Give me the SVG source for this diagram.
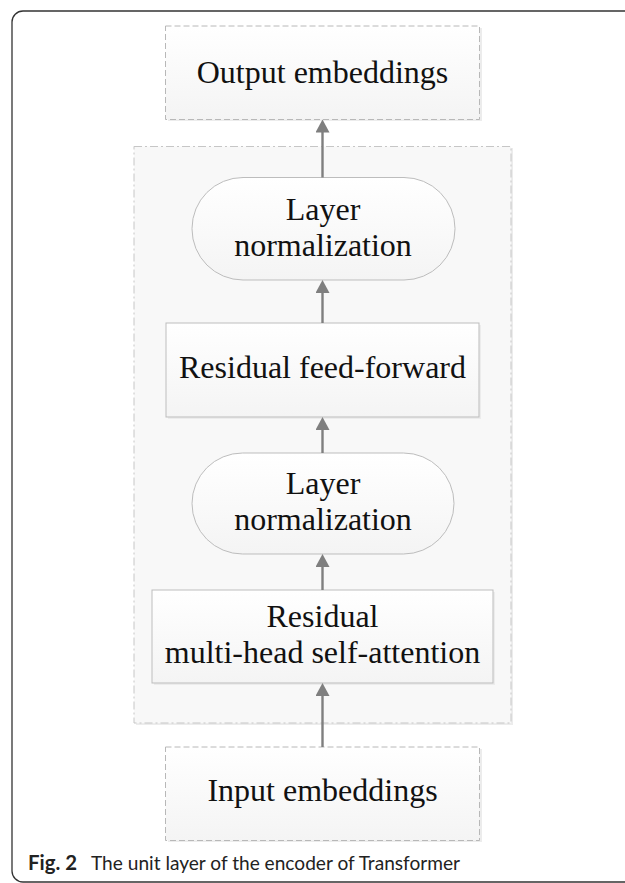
<svg xmlns="http://www.w3.org/2000/svg" width="625" height="883" viewBox="0 0 625 883">
  <style>
    .lbl { font-family: "Liberation Serif", "Times New Roman", serif; font-size: 32px; fill: #111; text-anchor: middle; }
    .cap { font-family: Lato, "Open Sans", "Liberation Sans", sans-serif; font-size: 20px; fill: #222; }
    .dashed { fill: url(#soft); stroke: #b8b8b8; stroke-width: 1; stroke-dasharray: 6 3; }
    .solid { fill: url(#soft); stroke: #bdbdbd; stroke-width: 1; }
    .shadow { fill: #ececec; }
    .conn { stroke: #7f7f7f; stroke-width: 2.4; fill: none; marker-end: url(#head); }
  </style>
  <defs>
    <linearGradient id="soft" x1="0" y1="0" x2="0" y2="1">
      <stop offset="0" stop-color="#ffffff"/>
      <stop offset="1" stop-color="#f4f4f4"/>
    </linearGradient>
    <!-- arrowhead: tip sits 3px beyond the line end so the stroke stays hidden -->
    <marker id="head" markerUnits="userSpaceOnUse" markerWidth="14" markerHeight="14" refX="10" refY="7" orient="auto">
      <path d="M0,0 L13,7 L0,14 Z" fill="#7f7f7f"/>
    </marker>
  </defs>

  <!-- figure frame, running off the right edge -->
  <rect x="12" y="11" width="700" height="871" rx="11" fill="#fff" stroke="#333" stroke-width="1.3"/>

  <!-- encoder unit container -->
  <g id="encoder-unit">
    <rect class="shadow" x="136" y="148" width="377" height="577"/>
    <rect x="134" y="146.5" width="377" height="576.5" fill="#f8f8f8" stroke="#c6c6c6" stroke-width="1" stroke-dasharray="8 3 2 3"/>
  </g>

  <g id="output-embeddings">
    <rect class="shadow" x="168" y="28" width="314" height="93"/>
    <rect class="dashed" x="165.5" y="26" width="314" height="93.5"/>
    <text class="lbl" x="322.5" y="83">Output embeddings</text>
  </g>

  <g id="layer-norm-2">
    <rect class="solid" x="192" y="177.5" width="263" height="102.5" rx="51"/>
    <text class="lbl" x="323" y="220">Layer</text>
    <text class="lbl" x="323" y="256">normalization</text>
  </g>

  <g id="residual-feed-forward">
    <rect class="shadow" x="168" y="325" width="313" height="94"/>
    <rect class="solid" x="166" y="323" width="313" height="94"/>
    <text class="lbl" x="322.5" y="378">Residual feed-forward</text>
  </g>

  <g id="layer-norm-1">
    <rect class="solid" x="192" y="453" width="262" height="101" rx="50.5"/>
    <text class="lbl" x="323" y="494">Layer</text>
    <text class="lbl" x="323" y="530">normalization</text>
  </g>

  <g id="residual-attention">
    <rect class="shadow" x="154" y="592" width="341" height="93"/>
    <rect class="solid" x="152" y="590" width="341" height="93"/>
    <text class="lbl" x="322.5" y="627">Residual</text>
    <text class="lbl" x="322.5" y="663">multi-head self-attention</text>
  </g>

  <g id="input-embeddings">
    <rect class="shadow" x="168" y="749" width="314" height="93"/>
    <rect class="dashed" x="165.5" y="747" width="314" height="93.5"/>
    <text class="lbl" x="322.5" y="801">Input embeddings</text>
  </g>

  <g id="connectors">
    <line class="conn" x1="322.5" y1="177.5" x2="322.5" y2="122.5"/>
    <line class="conn" x1="322.5" y1="323" x2="322.5" y2="283"/>
    <line class="conn" x1="322.5" y1="453" x2="322.5" y2="420"/>
    <line class="conn" x1="322.5" y1="590" x2="322.5" y2="557"/>
    <line class="conn" x1="322.5" y1="747" x2="322.5" y2="686"/>
  </g>

  <g id="caption">
    <text class="cap" x="28" y="870" font-weight="bold" textLength="49" lengthAdjust="spacingAndGlyphs">Fig. 2</text>
    <text class="cap" x="91" y="870" textLength="369" lengthAdjust="spacingAndGlyphs">The unit layer of the encoder of Transformer</text>
  </g>
</svg>
